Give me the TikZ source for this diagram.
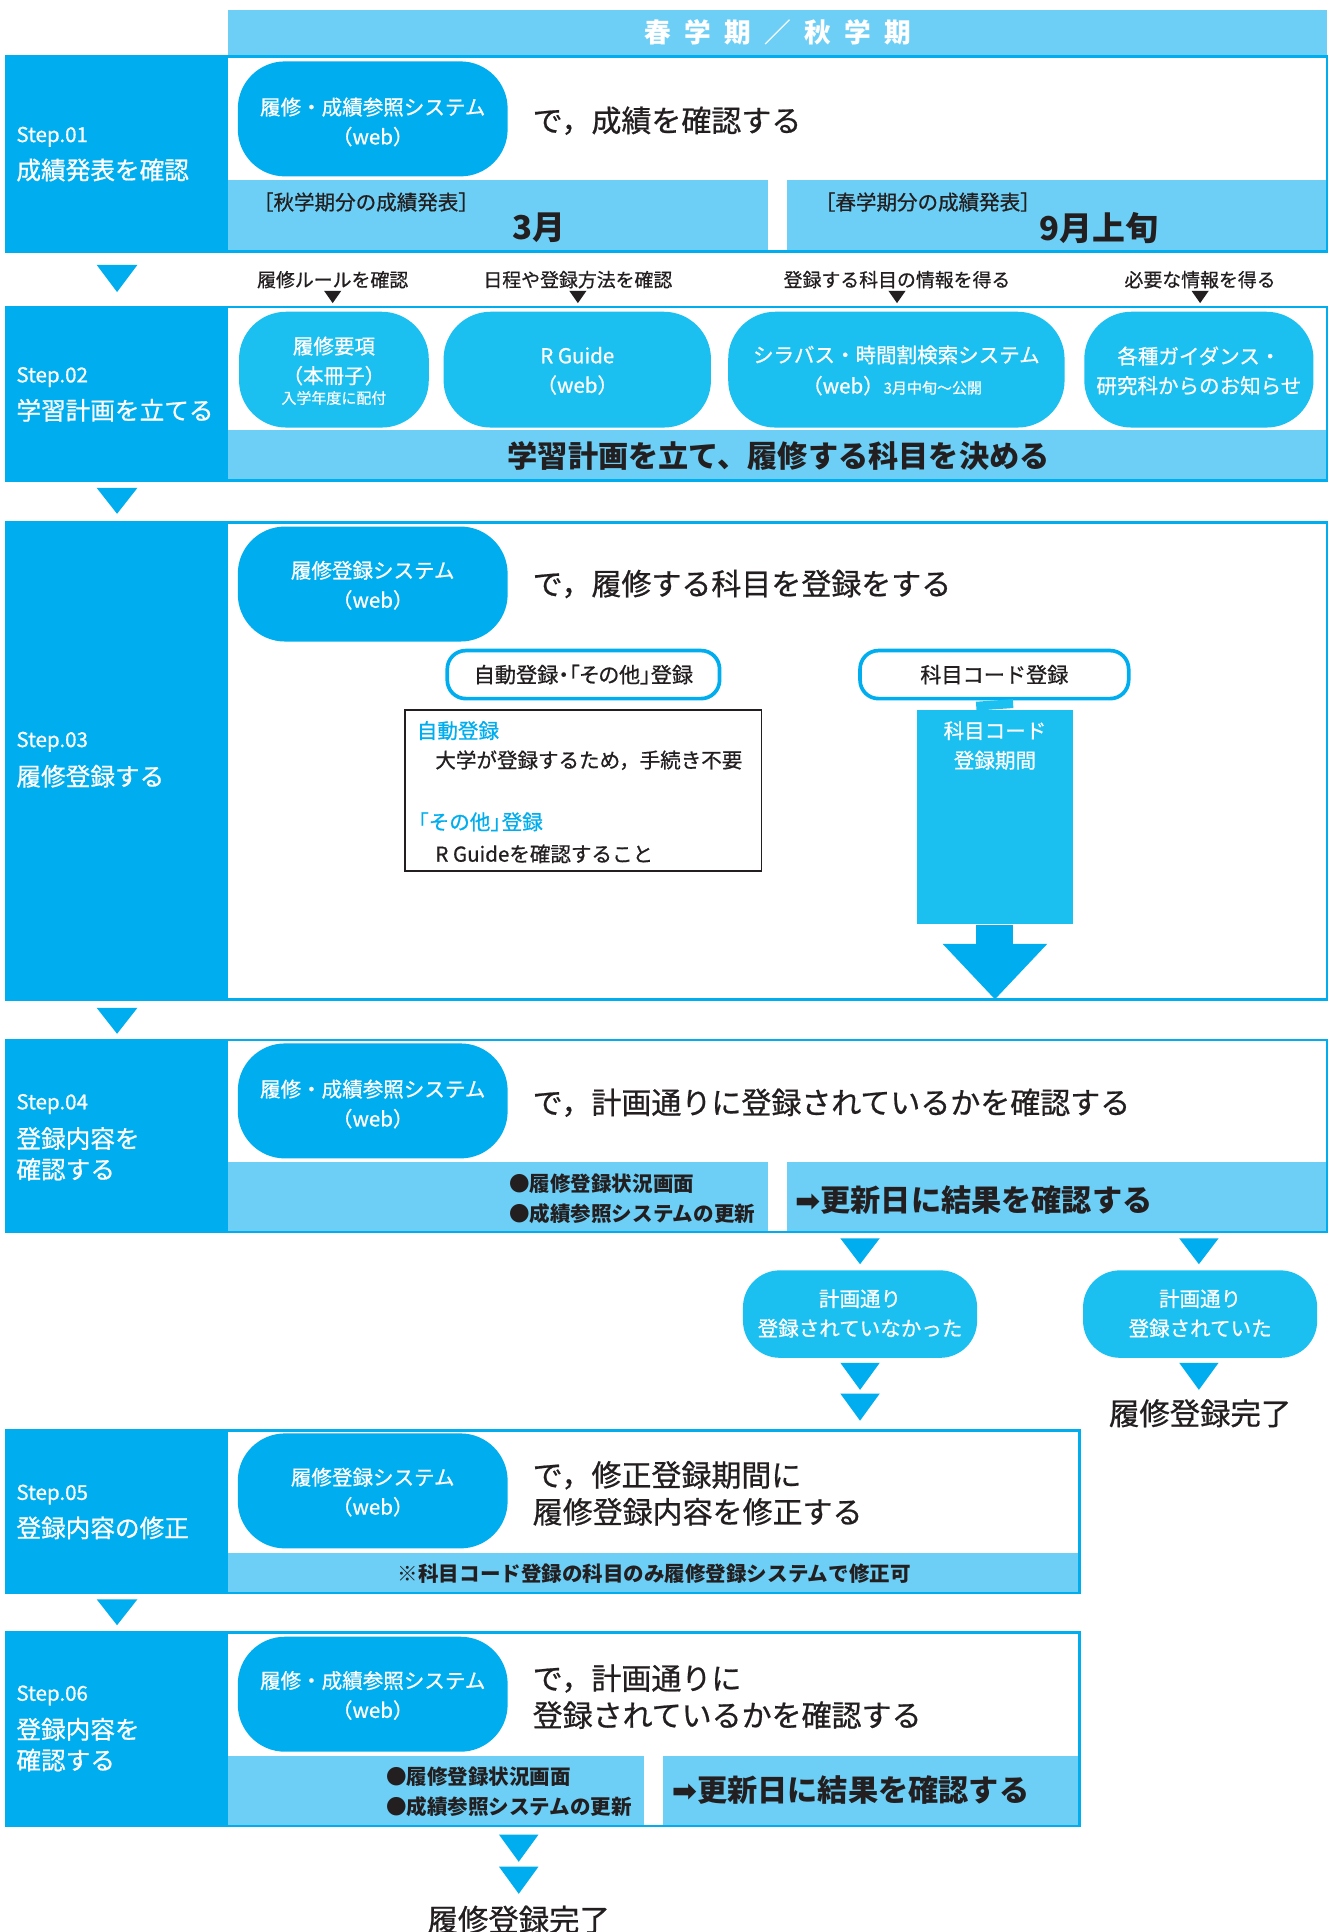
\documentclass[tikz,border=0pt]{standalone}
\usepackage{fontspec}
\setmainfont{Noto Sans CJK JP}
\newfontfamily\medfont{Noto Sans CJK JP}[FakeBold=0.7]
\newfontfamily\djvfont{DejaVu Sans}
\definecolor{cDark}{HTML}{00AEEF}
\definecolor{cLight}{HTML}{6DCFF6}
\definecolor{cMid}{HTML}{1BC0F0}
\definecolor{cText}{HTML}{231F20}
\newcommand{\dtri}[5]{\fill[#5] ({#1-#3/2},#2) -- ({#1+#3/2},#2) -- (#1,{#2+#4}) -- cycle;}
\tikzset{
  frame/.style={draw=cDark, line width=1.2pt},
  panel/.style={fill=cDark},
  stepno/.style={anchor=west, inner sep=0, text=white, font=\medfont\fontsize{10}{12}\selectfont},
  steptitle/.style={anchor=west, inner sep=0, text=white, align=left, font=\medfont\fontsize{12}{15}\selectfont},
  pillD/.style={fill=cDark, rounded corners=23pt, inner sep=0, minimum width=131.4pt, minimum height=56pt},
  pillM/.style={fill=cMid, rounded corners=23pt, inner sep=0, minimum height=56.4pt},
  pillR/.style={fill=cMid, rounded corners=18pt, inner sep=0, minimum width=114pt, minimum height=42.6pt},
  wt/.style={inner sep=0, text=white, align=center, font=\medfont\fontsize{10}{14.4}\selectfont},
  big/.style={inner sep=0, text=cText, align=left, font=\medfont\fontsize{14.6}{18}\selectfont},
  bigb/.style={inner sep=0, text=cText, font=\bfseries\fontsize{14.7}{18}\selectfont},
  dkt/.style={inner sep=0, text=cText, font=\medfont\fontsize{10}{14}\selectfont},
  bdk/.style={inner sep=0, text=cText, font=\bfseries\fontsize{10}{14}\selectfont},
  hdl/.style={inner sep=0, text=cText, font=\medfont\fontsize{9.2}{11}\selectfont},
  obox/.style={draw=cDark, line width=1.8pt, fill=white, rounded corners=9pt, inner sep=0, minimum height=23.4pt, text=cText, font=\medfont\fontsize{10.3}{12}\selectfont},
  done/.style={inner sep=0, text=cText, font=\medfont\fontsize{14.8}{18}\selectfont},
}
\begin{document}
\begin{tikzpicture}[x=0.6pt,y=-0.6pt]
\useasboundingbox (0,0) rectangle (1080,1568);
\fill[white] (0,0) rectangle (1080,1568);

% header
\node[fill=cLight, minimum width=535.2pt, minimum height=22.2pt, inner sep=0, text=white, font=\bfseries\fontsize{13}{13}\selectfont] (hdr) at (631,26.5) {春\hspace{.5em}学\hspace{.5em}期\hspace{.5em}／\hspace{.5em}秋\hspace{.5em}学\hspace{.5em}期};

% ---------- Step 01
\fill[panel] (5,46) rectangle (185,204);
\fill[cLight] (185,146) rectangle (623,203);
\fill[cLight] (639,146) rectangle (1077,203);
\draw[frame] (5,46) rectangle (1077,204);
\node[stepno] (s1n) at (13,111) {Step.01};
\node[steptitle] (s1t) at (13,138) {成績発表を確認};
\node[pillD] (s1p) at (302.5,96.5) {};
\node[wt] (s1pt) at (302.5,99) {履修・成績参照システム\\（web）};
\node[big, anchor=west] (s1m) at (432,98) {で，成績を確認する};
\node[dkt] (s1a) at (297,164) {［秋学期分の成績発表］};
\node[inner sep=0, text=cText, font=\bfseries\fontsize{16}{18}\selectfont] (s1b) at (437,185) {3月};
\node[dkt] (s1c) at (753,164) {［春学期分の成績発表］};
\node[inner sep=0, text=cText, font=\bfseries\fontsize{16}{18}\selectfont] (s1d) at (892,185) {9月上旬};

\dtri{95}{215}{33}{22}{cDark}

% ---------- Step 02 header labels
\node[hdl] (h1) at (270,227) {履修ルールを確認};
\node[hdl] (h2) at (469,227) {日程や登録方法を確認};
\node[hdl] (h3) at (728,227) {登録する科目の情報を得る};
\node[hdl] (h4) at (974,227) {必要な情報を得る};
\dtri{270}{236}{14}{10}{cText}
\dtri{469}{236}{14}{10}{cText}
\dtri{728}{236}{14}{10}{cText}
\dtri{974}{236}{14}{10}{cText}

% ---------- Step 02
\fill[panel] (5,249) rectangle (185,390);
\fill[cLight] (185,349) rectangle (1077,389);
\draw[frame] (5,249) rectangle (1077,390);
\node[stepno] (s2n) at (13,306) {Step.02};
\node[steptitle] (s2t) at (13,333) {学習計画を立てる};
\node[pillM, minimum width=92.4pt] (s2p1) at (271,300) {};
\node[pillM, minimum width=130.2pt] (s2p2) at (468.5,300) {};
\node[pillM, minimum width=163.8pt] (s2p3) at (727.5,300) {};
\node[pillM, minimum width=111.6pt] (s2p4) at (973,300) {};
\node[wt] (s2p1t) at (271,293) {履修要項\\（本冊子）};
\node[wt, font=\medfont\fontsize{7.3}{9}\selectfont] (s2p1s) at (271,323) {入学年度に配付};
\node[wt] (s2p2t) at (468.5,301) {R Guide\\（web）};
\node[wt] (s2p3a) at (727.5,288) {シラバス・時間割検索システム};
\node[wt] (s2p3b) at (724,313) {（web）{\fontsize{7.3}{9}\selectfont 3月中旬～公開}};
\node[wt] (s2p4t) at (973,301) {各種ガイダンス・\\研究科からのお知らせ};
\node[bigb] (s2s) at (632,370) {学習計画を立て、履修する科目を決める};

\dtri{95}{396}{33}{21}{cDark}

% ---------- Step 03
\fill[panel] (5,424) rectangle (185,811);
\draw[frame] (5,424) rectangle (1077,811);
\node[stepno] (s3n) at (13,602) {Step.03};
\node[steptitle] (s3t) at (13,630) {履修登録する};
\node[pillD] (s3p) at (302.5,474) {};
\node[wt] (s3pt) at (302.5,475) {履修登録システム\\（web）};
\node[big, anchor=west] (s3m) at (432,474) {で，履修する科目を登録をする};
\node[obox, minimum width=132.6pt] (ab) at (473.5,547.5) {\addfontfeature{RawFeature=+palt}自動登録・「その他」登録};
\node[obox, minimum width=130.8pt] (kc) at (807,547.5) {科目コード登録};
\draw[draw=cText, line width=0.9pt] (329,576) rectangle (618,707);
\node[dkt, text=cDark, anchor=west] (bx1) at (338,593) {自動登録};
\node[dkt, anchor=west] (bx2) at (353,617) {大学が登録するため，手続き不要};
\node[dkt, text=cDark, anchor=west] (bx3) at (331,667) {「その他」\hspace{-.45em}登録};
\node[dkt, anchor=west] (bx4) at (353,693) {R Guideを確認すること};
\node[fill=cMid, minimum width=76.2pt, minimum height=104.4pt, inner sep=0] (kp) at (807.5,663) {};
\draw[cMid, line width=18pt] (kc.south) -- (kp.north);
\node[wt] (kpt) at (807.5,605) {科目コード\\登録期間};
\coordinate (kst) at (807.5,766);
\coordinate (kend) at (807.5,811);
\draw[cDark, line width=18pt] (kp.south) -- (kst);
\fill[cDark] ([xshift=-25.5pt]kst) -- ([xshift=25.5pt]kst) -- (kend) -- cycle;

\dtri{95}{818}{33}{21}{cDark}

% ---------- Step 04
\fill[panel] (5,844) rectangle (185,1000);
\fill[cLight] (185,943) rectangle (623,999);
\fill[cLight] (639,943) rectangle (1077,999);
\draw[frame] (5,844) rectangle (1077,1000);
\node[stepno] (s4n) at (13,896) {Step.04};
\node[steptitle] (s4t) at (13,936.5) {登録内容を\\確認する};
\node[pillD] (s4p) at (302.5,893.5) {};
\node[wt] (s4pt) at (302.5,896) {履修・成績参照システム\\（web）};
\node[big, anchor=west] (s4m) at (432,895) {で，計画通りに登録されているかを確認する};
\node[bdk, anchor=west] (s4a) at (413,961) {●履修登録状況画面};
\node[bdk, anchor=west] (s4b) at (413,985) {●成績参照システムの更新};
\node[bigb, anchor=west] (s4c) at (645,974) {{\djvfont\bfseries ➡}更新日に結果を確認する};

\dtri{698}{1005}{32}{21}{cDark}
\dtri{973}{1005}{32}{21}{cDark}
\node[pillR] (r1) at (698,1066.5) {};
\node[pillR] (r2) at (974,1066.5) {};
\node[wt] (r1t) at (698,1066) {計画通り\\登録されていなかった};
\node[wt] (r2t) at (974,1066) {計画通り\\登録されていた};
\dtri{698}{1106}{32}{22}{cDark}
\dtri{698}{1131}{32}{22}{cDark}
\dtri{973}{1106}{32}{22}{cDark}
\node[done] (fin1) at (974,1147) {履修登録完了};

% ---------- Step 05
\fill[panel] (5,1161) rectangle (185,1293);
\fill[cLight] (185,1260) rectangle (876,1292);
\draw[frame] (5,1161) rectangle (876,1293);
\node[stepno] (s5n) at (13,1213) {Step.05};
\node[steptitle] (s5t) at (13,1240) {登録内容の修正};
\node[pillD] (s5p) at (302.5,1210) {};
\node[wt] (s5pt) at (302.5,1211) {履修登録システム\\（web）};
\node[big, anchor=west] (s5m) at (432,1212) {で，修正登録期間に\\履修登録内容を修正する};
\node[bdk] (s5s) at (531,1277) {※科目コード登録の科目のみ履修登録システムで修正可};

\dtri{95}{1298}{33}{21}{cDark}

% ---------- Step 06
\fill[panel] (5,1325) rectangle (185,1482);
\fill[cLight] (185,1425) rectangle (523,1481);
\fill[cLight] (538,1425) rectangle (876,1481);
\draw[frame] (5,1325) rectangle (876,1482);
\node[stepno] (s6n) at (13,1376) {Step.06};
\node[steptitle] (s6t) at (13,1416) {登録内容を\\確認する};
\node[pillD] (s6p) at (302.5,1375) {};
\node[wt] (s6pt) at (302.5,1376) {履修・成績参照システム\\（web）};
\node[big, anchor=west] (s6m) at (432,1377) {で，計画通りに\\登録されているかを確認する};
\node[bdk, anchor=west] (s6a) at (313,1442) {●履修登録状況画面};
\node[bdk, anchor=west] (s6b) at (313,1466) {●成績参照システムの更新};
\node[bigb, anchor=west] (s6c) at (545,1453) {{\djvfont\bfseries ➡}更新日に結果を確認する};

\dtri{421}{1489}{32}{22}{cDark}
\dtri{421}{1515}{32}{22}{cDark}
\node[done] (fin2) at (421,1558) {履修登録完了};
\end{tikzpicture}
\end{document}
